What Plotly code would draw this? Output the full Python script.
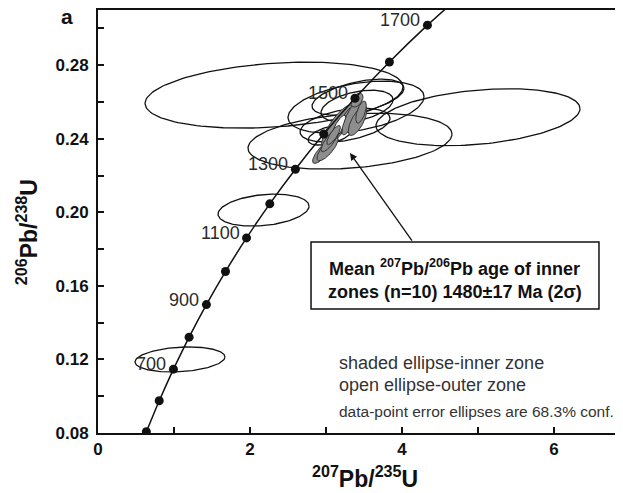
import numpy as np
import plotly.graph_objects as go

# ---- concordia (age in Ma, 207Pb/235U, 206Pb/238U) ----
concordia_age = [500, 600, 700, 800, 900, 1000, 1100, 1200, 1300, 1400, 1500, 1600, 1700, 1800]
concordia_x = [0.6363, 0.8056, 0.9925, 1.1987, 1.4263, 1.6774, 1.9545, 2.2603, 2.5977, 2.9701, 3.3810, 3.8344, 4.3348, 4.8869]
concordia_y = [0.08065, 0.09754, 0.11470, 0.13213, 0.14983, 0.16780, 0.18606, 0.20460, 0.22344, 0.24256, 0.26199, 0.28172, 0.30175, 0.32211]
label_ages = [700, 900, 1100, 1300, 1500, 1700]

# ---- outer zones (open ellipses): centre, half-extent x, half-extent y, correlation ----
outer_cx = [2.316, 5.000, 3.316, 3.395, 3.421, 3.408, 3.250, 3.053, 2.178, 1.079]
outer_cy = [0.2637, 0.2517, 0.2387, 0.2572, 0.2626, 0.2577, 0.2474, 0.2420, 0.2012, 0.1200]
outer_sx = [1.697, 1.342, 1.342, 0.895, 0.605, 0.474, 0.592, 0.289, 0.599, 0.592]
outer_sy = [0.01793, 0.01549, 0.01522, 0.01413, 0.00978, 0.00870, 0.00924, 0.00543, 0.00870, 0.00679]
outer_rho = [0.25, 0.30, 0.25, 0.40, 0.50, 0.40, 0.40, 0.50, 0.25, 0.20]

# outer zone lying inside the shaded cluster (drawn opaque, after the first two inner zones)
core_cx, core_cy, core_sx, core_sy, core_rho = 3.164, 0.2460, 0.097, 0.00682, 0.80

# ---- inner zones (shaded ellipses), n=10 ----
inner_cx = [3.151, 3.263, 2.961, 3.020, 3.053, 3.336, 3.414, 3.408, 3.461, 3.100]
inner_cy = [0.2468, 0.2501, 0.2330, 0.2346, 0.2392, 0.2520, 0.2496, 0.2610, 0.2545, 0.2420]
inner_sx = [0.209, 0.105, 0.138, 0.140, 0.118, 0.126, 0.121, 0.079, 0.070, 0.090]
inner_sy = [0.01158, 0.00720, 0.00641, 0.00660, 0.00630, 0.00989, 0.00783, 0.00380, 0.00600, 0.00520]
inner_rho = [0.82, 0.80, 0.80, 0.78, 0.82, 0.82, 0.69, 0.45, 0.60, 0.80]

x_ticks = [0, 2, 4, 6]
y_ticks = [0.08, 0.12, 0.16, 0.20, 0.24, 0.28]

FONT = "Liberation Sans, Arial, Helvetica, sans-serif"
t = np.linspace(0, 2 * np.pi, 160)


def ellipse(cx, cy, sx, sy, rho):
    ex = cx + sx * np.cos(t)
    ey = cy + sy * (rho * np.cos(t) + np.sqrt(1 - rho ** 2) * np.sin(t))
    return ex, ey


fig = go.Figure()

for cx, cy, sx, sy, r in zip(outer_cx, outer_cy, outer_sx, outer_sy, outer_rho):
    ex, ey = ellipse(cx, cy, sx, sy, r)
    fig.add_trace(go.Scatter(x=ex, y=ey, mode="lines",
                             line=dict(color="#111", width=1.3),
                             hoverinfo="skip", showlegend=False))

for i, (cx, cy, sx, sy, r) in enumerate(zip(inner_cx, inner_cy, inner_sx, inner_sy, inner_rho)):
    ex, ey = ellipse(cx, cy, sx, sy, r)
    fig.add_trace(go.Scatter(x=ex, y=ey, mode="lines", fill="toself",
                             fillcolor="#8e8e8e",
                             line=dict(color="#333", width=1.0),
                             hoverinfo="skip", showlegend=False))
    if i == 1:
        ex, ey = ellipse(core_cx, core_cy, core_sx, core_sy, core_rho)
        fig.add_trace(go.Scatter(x=ex, y=ey, mode="lines", fill="toself",
                                 fillcolor="white",
                                 line=dict(color="#222", width=1.0),
                                 hoverinfo="skip", showlegend=False))

fig.add_trace(go.Scatter(x=concordia_x, y=concordia_y, mode="lines+markers",
                         line=dict(color="#111", width=1.5, shape="spline", smoothing=0.5),
                         marker=dict(color="#111", size=9),
                         hoverinfo="skip", showlegend=False))

annotations = []
for age in label_ages:
    k = concordia_age.index(age)
    annotations.append(dict(x=concordia_x[k], y=concordia_y[k], text=str(age),
                            showarrow=False, xanchor="right", yanchor="middle",
                            xshift=-5, yshift=5,
                            font=dict(family=FONT, size=18, color="#2a2a2a")))

# arrow from text box to cluster
annotations.append(dict(x=3.316, y=0.2322, ax=63, ay=89, text="", showarrow=True,
                        arrowhead=2, arrowsize=1.1, arrowwidth=1.3, arrowcolor="#111",
                        standoff=0))

box_font = dict(family=FONT, size=18, color="#111", weight="bold")
annotations.append(dict(x=4.697, y=0.1702, text="Mean <sup>207</sup>Pb/<sup>206</sup>Pb age of inner",
                        showarrow=False, xanchor="center", yanchor="middle", font=box_font))
annotations.append(dict(x=4.697, y=0.1566, text="zones (n=10) 1480±17 Ma (2σ)",
                        showarrow=False, xanchor="center", yanchor="middle", font=box_font))

note_font = dict(family=FONT, size=18, color="#333")
annotations.append(dict(x=3.145, y=0.1180, text="shaded ellipse-inner zone", showarrow=False,
                        xanchor="left", yanchor="middle", font=note_font))
annotations.append(dict(x=3.145, y=0.1061, text="open ellipse-outer zone", showarrow=False,
                        xanchor="left", yanchor="middle", font=note_font))
annotations.append(dict(x=3.145, y=0.0915, text="data-point error ellipses are 68.3% conf.",
                        showarrow=False, xanchor="left", yanchor="middle",
                        font=dict(family=FONT, size=15.5, color="#333")))

# axis titles and panel letter
annotations.append(dict(xref="paper", yref="paper", x=0.5095, y=-0.104,
                        text="<sup>207</sup>Pb/<sup>235</sup>U", showarrow=False,
                        xanchor="center", yanchor="middle",
                        font=dict(family=FONT, size=23, color="#111", weight="bold")))
annotations.append(dict(xref="paper", yref="paper", x=-0.135, y=0.475, textangle=-90,
                        text="<sup>206</sup>Pb/<sup>238</sup>U", showarrow=False,
                        xanchor="center", yanchor="middle",
                        font=dict(family=FONT, size=23, color="#111", weight="bold")))
annotations.append(dict(xref="paper", yref="paper", x=-0.059, y=0.984, text="a",
                        showarrow=False, xanchor="center", yanchor="middle",
                        font=dict(family=FONT, size=21, color="#111", weight="bold")))

# the page body adds an 8 px margin, so the figure is 8 px smaller and offset
fig.update_layout(
    width=615, height=485,
    margin=dict(l=90, r=0, t=2, b=60),
    paper_bgcolor="white", plot_bgcolor="white",
    font=dict(family=FONT, color="#111"),
    annotations=annotations,
    shapes=[dict(type="rect", xref="x", yref="y", x0=2.803, x1=6.592, y0=0.1474, y1=0.1838,
                 line=dict(color="#111", width=1.5), fillcolor="white", layer="above")],
)
fig.update_xaxes(range=[0, 6.908], tickvals=x_ticks, ticktext=[str(v) for v in x_ticks],
                 ticks="inside", ticklen=6, tickwidth=1.5, tickcolor="#111",
                 minor=dict(dtick=1, tick0=0, ticks="inside", ticklen=6, tickwidth=1.5, tickcolor="#111"),
                 showline=True, linewidth=2, linecolor="#111", mirror=True,
                 showgrid=False, zeroline=False,
                 tickfont=dict(family=FONT, size=17, color="#111", weight="bold"))
fig.update_yaxes(range=[0.08, 0.31], tickvals=y_ticks, ticktext=[f"{v:.2f}" for v in y_ticks],
                 ticks="inside", ticklen=6, tickwidth=1.5, tickcolor="#111",
                 minor=dict(dtick=0.02, tick0=0.08, ticks="inside", ticklen=6, tickwidth=1.5, tickcolor="#111"),
                 showline=True, linewidth=2, linecolor="#111",
                 showgrid=False, zeroline=False, ticklabelstandoff=4,
                 tickfont=dict(family=FONT, size=17, color="#111", weight="bold"))

fig.write_html("out.html")
